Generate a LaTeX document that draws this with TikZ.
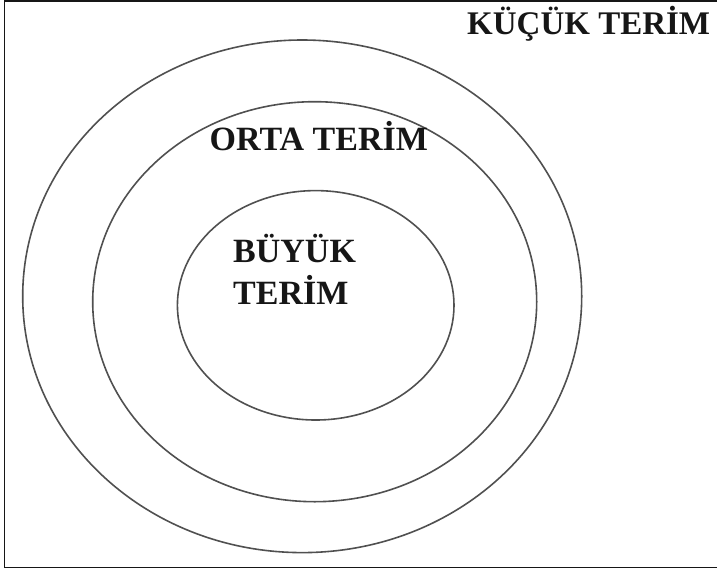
\documentclass[tikz,border=0pt]{standalone}
\usepackage{fontspec}
\setmainfont{Liberation Serif}
\usetikzlibrary{positioning}
\definecolor{ring}{RGB}{80,80,80}
\definecolor{ink}{RGB}{22,22,22}
\tikzset{
  ringline/.style={draw=ring, line width=1.6pt},
  frameline/.style={draw=ink, line width=1.6pt},
  term/.style={font=\fontsize{34}{41.3}\selectfont\bfseries, text=ink,
              inner sep=0pt, align=left},
}
\begin{document}
\begin{tikzpicture}[x=1pt,y=-1pt]
    \useasboundingbox (0,0) rectangle (717,571);
    \draw[frameline] (717,0.8) -- (4.6,0.8) -- (4.6,567.3) -- (717,567.3);
    \draw[ringline] (302.2,296.3) ellipse [x radius=279.5, y radius=256.3];
    \draw[ringline] (314.7,301.7) ellipse [x radius=222, y radius=200];
    \draw[ringline] (315.7,305.3) ellipse [x radius=138.3, y radius=114.7];
    \node[term, font=\fontsize{33}{41.3}\selectfont\bfseries, anchor=base west] (kucuk) at (467,34.3) {KÜÇÜK TERİM};
    \node[term, anchor=base west] (orta) at (209.5,150.7) {ORTA TERİM};
    \node[term, anchor=base west] (buyuk) at (233,304) {BÜYÜK\\TERİM};
\end{tikzpicture}
\end{document}
